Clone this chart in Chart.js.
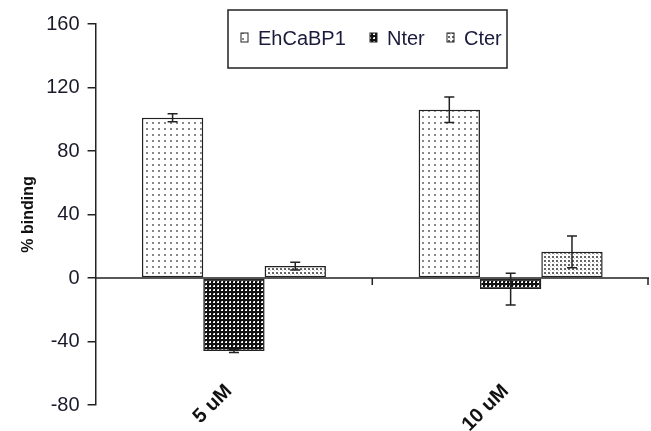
<!DOCTYPE html>
<html lang="en">
<head>
  <meta charset="UTF-8" />
  <title>% binding</title>
  <script src="https://cdn.jsdelivr.net/npm/chart.js"></script>
  <style>
    body { margin: 0; background: #fff; }
    #wrap { width: 651px; height: 431px; position: relative; }
  </style>
</head>
<body>
  <div id="wrap"><canvas id="bindChart"></canvas></div>

  <script>
    // values
    const concentrations = ["5 uM", "10 uM"];
    const seriesNames = ["EhCaBP1", "Nter", "Cter"];
    const ehcabp1 = [101, 106];
    const nter = [-46, -7];
    const cter = [7.5, 16.5];
    const ehcabp1Err = [2.5, 8];
    const nterErr = [1, 10];
    const cterErr = [2.5, 10];
    const yTicks = [160, 120, 80, 40, 0, -40, -80];

    const FONT = "'Liberation Sans', Arial, sans-serif";

    function makePattern(kind) {
      const c = document.createElement("canvas");
      const g = c.getContext("2d");
      if (kind === "dots") {
        c.width = 6; c.height = 6;
        g.fillStyle = "#fff"; g.fillRect(0, 0, 6, 6);
        g.fillStyle = "#888"; g.fillRect(2, 2, 2, 2);
      } else if (kind === "dense") {
        c.width = 4; c.height = 4;
        g.fillStyle = "#111"; g.fillRect(0, 0, 4, 4);
        g.fillStyle = "#fff"; g.fillRect(1, 1, 2, 2);
        g.fillStyle = "#999"; g.fillRect(1, 1, 1, 1);
      } else {
        c.width = 4; c.height = 4;
        g.fillStyle = "#fff"; g.fillRect(0, 0, 4, 4);
        g.fillStyle = "#666"; g.fillRect(0, 0, 2, 2);
        g.fillStyle = "#ccc"; g.fillRect(2, 2, 1, 1);
      }
      return g.createPattern(c, "repeat");
    }

    const fills = [makePattern("dots"), makePattern("dense"), makePattern("light")];
    const errs = [ehcabp1Err, nterErr, cterErr];

    const extras = {
      id: "extras",
      afterDatasetsDraw(chart) {
        const ctx = chart.ctx;
        const area = chart.chartArea;
        const y = chart.scales.y;
        const x = chart.scales.x;
        const zero = y.getPixelForValue(0);
        ctx.save();
        ctx.strokeStyle = "#222";
        ctx.lineWidth = 1.5;
        // zero line with category boundary ticks
        ctx.beginPath();
        ctx.moveTo(area.left, zero);
        ctx.lineTo(area.right, zero);
        const step = (area.right - area.left) / concentrations.length;
        for (let i = 1; i <= concentrations.length; i++) {
          const px = area.left + step * i - (i === concentrations.length ? 1 : 0);
          ctx.moveTo(px, zero);
          ctx.lineTo(px, zero + 7);
        }
        ctx.stroke();

        // error bars
        chart.data.datasets.forEach((ds, di) => {
          const meta = chart.getDatasetMeta(di);
          meta.data.forEach((bar, i) => {
            const v = ds.data[i];
            const e = errs[di][i];
            const top = y.getPixelForValue(v + e);
            const bot = y.getPixelForValue(v - e);
            ctx.beginPath();
            ctx.moveTo(bar.x, top); ctx.lineTo(bar.x, bot);
            ctx.moveTo(bar.x - 5, top); ctx.lineTo(bar.x + 5, top);
            ctx.moveTo(bar.x - 5, bot); ctx.lineTo(bar.x + 5, bot);
            ctx.stroke();
          });
        });

        // category labels, rotated, below the plot
        ctx.fillStyle = "#111";
        ctx.font = "bold 20px " + FONT;
        ctx.textAlign = "right";
        ctx.textBaseline = "middle";
        concentrations.forEach((lab, i) => {
          const cx = x.getPixelForTick(i);
          ctx.save();
          ctx.translate(cx - 5, 388);
          ctx.rotate(-Math.PI / 4);
          ctx.fillText(lab, 0, 0);
          ctx.restore();
        });

        // legend box
        const bx = 228, by = 10, bw = 279, bh = 58;
        ctx.fillStyle = "#fff";
        ctx.fillRect(bx, by, bw, bh);
        ctx.lineWidth = 1.5;
        ctx.strokeStyle = "#222";
        ctx.strokeRect(bx, by, bw, bh);
        ctx.font = "20px " + FONT;
        ctx.textAlign = "left";
        ctx.textBaseline = "middle";
        const itemX = [241, 370, 447];
        seriesNames.forEach((name, i) => {
          ctx.fillStyle = fills[i];
          ctx.fillRect(itemX[i], 33, 7, 9);
          ctx.lineWidth = 1;
          ctx.strokeRect(itemX[i], 33, 7, 9);
          ctx.fillStyle = "#1a1a3a";
          ctx.fillText(name, itemX[i] + 17, 39);
        });
        ctx.restore();
      }
    };

    const ctx = document.getElementById("bindChart").getContext("2d");
    new Chart(ctx, {
      type: "bar",
      data: {
        labels: concentrations,
        datasets: [
          { label: seriesNames[0], data: ehcabp1, backgroundColor: fills[0] },
          { label: seriesNames[1], data: nter, backgroundColor: fills[1] },
          { label: seriesNames[2], data: cter, backgroundColor: fills[2] }
        ].map(d => Object.assign(d, {
          borderColor: "#222",
          borderWidth: 1.5,
          borderSkipped: false,
          categoryPercentage: 0.665,
          barPercentage: 1
        }))
      },
      options: {
        responsive: true,
        maintainAspectRatio: false,
        animation: false,
        layout: { padding: { top: 24, right: 2, left: 19, bottom: 18 } },
        plugins: {
          legend: { display: false },
          tooltip: { enabled: false }
        },
        scales: {
          y: {
            min: -80,
            max: 160,
            afterBuildTicks: s => { s.ticks = yTicks.map(v => ({ value: v })); },
            grid: {
              drawOnChartArea: false,
              drawTicks: true,
              tickLength: 8,
              color: "#222",
              lineWidth: 1.5
            },
            border: { display: true, color: "#222", width: 1.5 },
            ticks: {
              color: "#1a1a2a",
              padding: 8,
              font: { size: 20, family: FONT }
            },
            title: {
              display: true,
              text: "% binding",
              color: "#111",
              padding: { top: 0, bottom: 0 },
              font: { size: 16, weight: "bold", family: FONT }
            }
          },
          x: {
            grid: { display: false },
            border: { display: false },
            ticks: { display: false }
          }
        }
      },
      plugins: [extras]
    });
  </script>
</body>
</html>
